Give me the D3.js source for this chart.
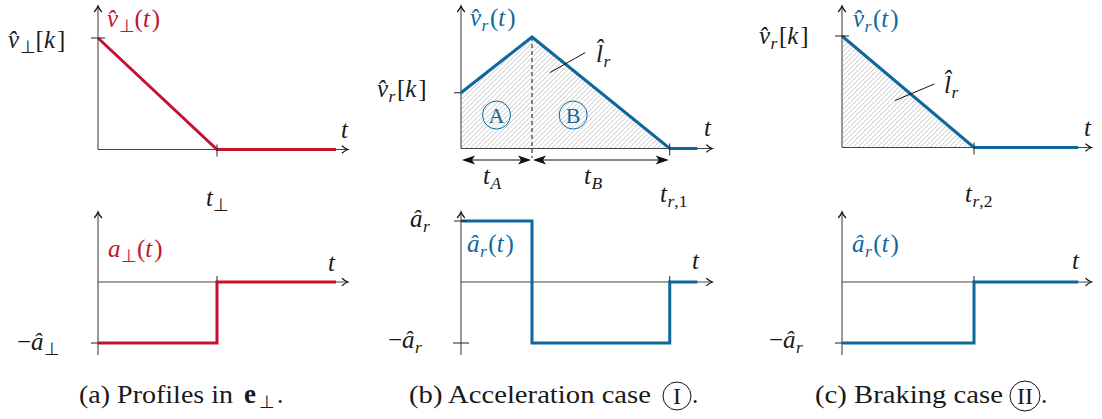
<!DOCTYPE html>
<html>
<head>
<meta charset="utf-8">
<script src="https://cdn.jsdelivr.net/npm/d3@7"></script>
</head>
<body style="margin:0;background:#fff">
<svg id="chart" width="1102" height="419" style="display:block"></svg>
<script>
// ---- profile data (time in units of the panel's first switching time) ----
// (a) perpendicular direction
const perpVelT = [0, 1, 2];
const perpVelV = [1, 0, 0];
const perpAccT = [0, 1, 1, 2];
const perpAccV = [-1, -1, 0, 0];
const perpAxisMax = 2.1;

// (b) acceleration case: ramp up for t_A, ramp down for t_B
const accVelT = [0, 1, 2.94, 3.33];
const accVelV = [0.5, 1, 0, 0];
const accAccT = [0, 1, 1, 2.94, 2.94, 3.33];
const accAccV = [1, 1, -1, -1, 0, 0];
const accAxisMax = 3.54;

// (c) braking case
const brkVelT = [0, 1, 1.79];
const brkVelV = [1, 0, 0];
const brkAccT = [0, 1, 1, 1.79];
const brkAccV = [-1, -1, 0, 0];
const brkAxisMax = 1.89;

const RED = "#c4122f";
const BLUE = "#0f689c";
const FONT = '"Liberation Serif", "Times New Roman", serif';
const INK = "#1a1a1a";

const svg = d3.select("#chart");
const ctx = document.createElement("canvas").getContext("2d");

// ---- helpers ----
function measure(str, size, italic, bold) {
  ctx.font = `${italic ? "italic " : ""}${bold ? "bold " : ""}${size}px "Liberation Serif", serif`;
  return ctx.measureText(str).width;
}

function plainText(x, y, str, opts = {}) {
  const size = opts.size || 25;
  const t = svg.append("text").attr("x", x).attr("y", y)
    .attr("font-size", size)
    .attr("font-family", FONT)
    .style("font-family", FONT)
    .style("fill", opts.color || INK)
    .text(str);
  if (opts.italic) t.attr("font-style", "italic").style("font-style", "italic");
  if (opts.len) t.attr("textLength", opts.len).attr("lengthAdjust", "spacingAndGlyphs");
  if (opts.anchor) t.attr("text-anchor", opts.anchor);
  if (opts.bold) t.attr("font-weight", "bold");
  return t;
}

// math label built from separate runs: [text, "i" italic / "sub" subscript]
function mathText(x, y, parts, opts = {}) {
  const size = opts.size || 25;
  let cx = x;
  let prevItalic = false;
  parts.forEach(([str, kind]) => {
    const italic = !!(kind && kind.includes("i"));
    const sub = !!(kind && kind.includes("sub"));
    const s = sub ? size * 0.7 : size;
    if (prevItalic && !italic && !sub) cx += 1.5;
    plainText(cx, y + (sub ? 5 : 0), str, { size: s, italic, color: opts.color });
    cx += measure(str, s, italic) + (italic && !sub ? 0.5 : 0);
    prevItalic = italic;
  });
}

function arrowHead(g, x, y, dir) {
  // light open chevron at the end of an axis
  let p;
  if (dir === "right") p = `M${x - 6},${y - 3.8} Q${x - 2.5},${y - 0.8} ${x},${y} Q${x - 2.5},${y + 0.8} ${x - 6},${y + 3.8}`;
  else p = `M${x - 3.8},${y + 6} Q${x - 0.8},${y + 2.5} ${x},${y} Q${x + 0.8},${y + 2.5} ${x + 3.8},${y + 6}`;
  g.append("path").attr("d", p).attr("fill", "none").attr("stroke", "#111").attr("stroke-width", 1.2);
}

function stealth(g, x, y, dir) {
  const s = dir; // +1 points right, -1 points left
  const p = `M${x},${y} L${x - s * 13},${y - 4.5} L${x - s * 10},${y} L${x - s * 13},${y + 4.5} Z`;
  g.append("path").attr("d", p).attr("fill", "#111");
}

function panel(cfg) {
  const g = svg.append("g");
  const x = d3.scaleLinear().domain([0, 1]).range([cfg.ox, cfg.ox + cfg.unit]);
  const yTop = d3.scaleLinear().domain([0, 1]).range([cfg.top0, cfg.top1]);
  const yBot = d3.scaleLinear().domain([-1, 1]).range([343, 221]);
  return { g, x, yTop, yBot };
}

function axesTop(p, tMax) {
  const { g, x, yTop } = p;
  g.append("line").attr("x1", x(0)).attr("x2", x(0)).attr("y1", yTop(0)).attr("y2", 6)
    .attr("stroke", "#777").attr("stroke-width", 1.5);
  arrowHead(g, x(0), 6, "up");
  g.append("line").attr("x1", x(0)).attr("x2", x(tMax)).attr("y1", yTop(0)).attr("y2", yTop(0))
    .attr("stroke", "#444").attr("stroke-width", 1.1);
  arrowHead(g, x(tMax), yTop(0), "right");
}

function axesBot(p, tMax) {
  const { g, x, yBot } = p;
  g.append("line").attr("x1", x(0)).attr("x2", x(0)).attr("y1", 355).attr("y2", 212)
    .attr("stroke", "#777").attr("stroke-width", 1.5);
  arrowHead(g, x(0), 212, "up");
  g.append("line").attr("x1", x(0)).attr("x2", x(tMax)).attr("y1", yBot(0)).attr("y2", yBot(0))
    .attr("stroke", "#444").attr("stroke-width", 1.1);
  arrowHead(g, x(tMax), yBot(0), "right");
}

function hTick(g, xc, y, left, right) {
  g.append("line").attr("x1", xc - left).attr("x2", xc + right).attr("y1", y).attr("y2", y)
    .attr("stroke", "#222").attr("stroke-width", 1);
}
function vTick(g, x, y1, y2) {
  g.append("line").attr("x1", x).attr("x2", x).attr("y1", y1).attr("y2", y2)
    .attr("stroke", "#222").attr("stroke-width", 1);
}

function profile(p, T, V, yScale, color) {
  const line = d3.line().x((d, i) => p.x(T[i])).y(d => yScale(d));
  p.g.append("path").attr("d", line(V)).attr("fill", "none")
    .attr("stroke", color).attr("stroke-width", 3).attr("stroke-linejoin", "miter");
}

// diagonal hatching of the area under a velocity profile (convex region)
function hatchArea(p, T, V) {
  const pts = [[p.x(T[0]), p.yTop(0)]]
    .concat(T.map((t, i) => [p.x(t), p.yTop(V[i])]))
    .concat([[p.x(T[T.length - 1]), p.yTop(0)]]);
  const sums = pts.map(q => q[0] + q[1]);
  const kMin = d3.min(sums), kMax = d3.max(sums);
  const step = 4.8;
  const hg = p.g.insert("g", ":first-child");
  for (let k = kMin + step / 2; k < kMax; k += step) {
    const hits = [];
    for (let i = 0; i < pts.length; i++) {
      const a = pts[i], b = pts[(i + 1) % pts.length];
      const s1 = a[0] + a[1] - k, s2 = b[0] + b[1] - k;
      if (s1 === s2 || s1 * s2 > 0) continue;
      const u = s1 / (s1 - s2);
      hits.push([a[0] + u * (b[0] - a[0]), a[1] + u * (b[1] - a[1])]);
    }
    if (hits.length < 2) continue;
    const lo = d3.least(hits, h => h[0]), hi = d3.greatest(hits, h => h[0]);
    hg.append("line").attr("x1", lo[0]).attr("y1", lo[1]).attr("x2", hi[0]).attr("y2", hi[1])
      .attr("stroke", "#b8b8b8").attr("stroke-width", 0.8);
  }
}

function circled(cx, cy, r, str, baseline) {
  svg.append("circle").attr("cx", cx).attr("cy", cy).attr("r", r)
    .attr("fill", "none").attr("stroke", "#111").attr("stroke-width", 1);
  plainText(cx, baseline, str, { anchor: "middle", size: 24 });
}

// ================= (a) perpendicular profiles =================
{
  const p = panel({ ox: 98, unit: 119, top0: 149.5, top1: 38 });
  axesTop(p, perpAxisMax);
  axesBot(p, perpAxisMax);
  profile(p, perpVelT, perpVelV, p.yTop, RED);
  profile(p, perpAccT, perpAccV, p.yBot, RED);
  hTick(p.g, p.x(0), p.yTop(1), 7, 7);
  vTick(p.g, p.x(1), p.yTop(0) - 5, p.yTop(0) + 7);
  hTick(p.g, p.x(0), p.yBot(-1), 7, 0);
  vTick(p.g, p.x(1), p.yBot(0) - 6, p.yBot(0));

  mathText(8, 48, [["v\u0302", "i"], ["\u22A5", "sub"], ["[", ""], ["k", "i"], ["]", ""]]);
  mathText(107, 27, [["v\u0302", "i"], ["\u22A5", "sub"], ["(", ""], ["t", "i"], [")", ""]], { color: RED });
  mathText(341, 138, [["t", "i"]]);
  mathText(206, 206, [["t", "i"], ["\u22A5", "sub"]]);
  mathText(108, 257, [["a", "i"], ["\u22A5", "sub"], ["(", ""], ["t", "i"], [")", ""]], { color: RED });
  mathText(328, 271, [["t", "i"]]);
  mathText(17, 350, [["\u2212", ""], ["a\u0302", "i"], ["\u22A5", "sub"]]);

  plainText(79, 403, "(a) Profiles in", { len: 154 });
  plainText(244, 403, "e", { bold: true, size: 27 });
  plainText(259, 408, "\u22A5", { size: 18 });
  plainText(277, 403, ".");
}

// ================= (b) acceleration case =================
{
  const p = panel({ ox: 461, unit: 71, top0: 148.5, top1: 37 });
  hatchArea(p, accVelT.slice(0, 3), accVelV.slice(0, 3));
  axesTop(p, accAxisMax);
  axesBot(p, accAxisMax);

  // switching instant between phase A and B
  p.g.append("line").attr("x1", p.x(1)).attr("x2", p.x(1))
    .attr("y1", p.yTop(1)).attr("y2", 158)
    .attr("stroke", "#111").attr("stroke-width", 1).attr("stroke-dasharray", "4,3");

  profile(p, accVelT, accVelV, p.yTop, BLUE);
  profile(p, accAccT, accAccV, p.yBot, BLUE);

  hTick(p.g, p.x(0), p.yTop(0.5), 7, 0);
  vTick(p.g, p.x(2.94), p.yTop(0) - 5, p.yTop(0) + 7);
  hTick(p.g, p.x(0), p.yBot(1), 7, 6);
  hTick(p.g, p.x(0), p.yBot(-1), 8, 8);
  vTick(p.g, p.x(2.94), p.yBot(0) - 6, p.yBot(0));

  // duration arrows t_A and t_B
  const ya = 160;
  [[0, 1], [1, 2.94]].forEach(([a, b]) => {
    p.g.append("line").attr("x1", p.x(a) + 3).attr("x2", p.x(b) - 3).attr("y1", ya).attr("y2", ya)
      .attr("stroke", "#111").attr("stroke-width", 1.1);
    stealth(p.g, p.x(a) + 1, ya, -1);
    stealth(p.g, p.x(b) - 1, ya, 1);
  });

  // circled region markers
  [["A", 0.5], ["B", 1.58]].forEach(([lab, t]) => {
    p.g.append("circle").attr("cx", p.x(t)).attr("cy", p.yTop(0.3)).attr("r", 14)
      .attr("fill", "none").attr("stroke", BLUE).attr("stroke-width", 1);
    plainText(p.x(t), p.yTop(0.3) + 7.5, lab, { anchor: "middle", size: 22, color: BLUE });
  });

  // leader to the distance label
  p.g.append("line").attr("x1", p.x(1.25)).attr("y1", p.yTop(0.68))
    .attr("x2", p.x(1.75)).attr("y2", p.yTop(0.86)).attr("stroke", "#111").attr("stroke-width", 1);

  mathText(470, 26, [["v\u0302", "i"], ["r", "i sub"], ["(", ""], ["t", "i"], [")", ""]], { color: BLUE });
  mathText(377, 97, [["v\u0302", "i"], ["r", "i sub"], ["[", ""], ["k", "i"], ["]", ""]]);
  mathText(596, 62, [["l\u0302", "i"], ["r", "i sub"]]);
  mathText(704, 136, [["t", "i"]]);
  mathText(483, 184, [["t", "i"], ["A", "i sub"]]);
  mathText(584, 184, [["t", "i"], ["B", "i sub"]]);
  mathText(660, 202, [["t", "i"], ["r", "i sub"], [",1", "sub"]]);
  mathText(410, 227, [["a\u0302", "i"], ["r", "i sub"]]);
  mathText(467, 252, [["a\u0302", "i"], ["r", "i sub"], ["(", ""], ["t", "i"], [")", ""]], { color: BLUE });
  mathText(692, 269, [["t", "i"]]);
  mathText(388, 348, [["\u2212", ""], ["a\u0302", "i"], ["r", "i sub"]]);

  plainText(409, 403, "(b) Acceleration case", { len: 242 });
  circled(677, 396, 14, "I", 404);
  plainText(692, 403, ".");
}

// ================= (c) braking case =================
{
  const p = panel({ ox: 842, unit: 132, top0: 147.5, top1: 36 });
  hatchArea(p, brkVelT.slice(0, 2), brkVelV.slice(0, 2));
  axesTop(p, brkAxisMax);
  axesBot(p, brkAxisMax);
  profile(p, brkVelT, brkVelV, p.yTop, BLUE);
  profile(p, brkAccT, brkAccV, p.yBot, BLUE);

  hTick(p.g, p.x(0), p.yTop(1), 7, 7);
  vTick(p.g, p.x(1), p.yTop(0) - 5, p.yTop(0) + 7);
  hTick(p.g, p.x(0), p.yBot(-1), 7, 0);
  vTick(p.g, p.x(1), p.yBot(0) - 6, p.yBot(0));

  p.g.append("line").attr("x1", p.x(0.40)).attr("y1", p.yTop(0.42))
    .attr("x2", p.x(0.70)).attr("y2", p.yTop(0.57)).attr("stroke", "#111").attr("stroke-width", 1);

  mathText(853, 27, [["v\u0302", "i"], ["r", "i sub"], ["(", ""], ["t", "i"], [")", ""]], { color: BLUE });
  mathText(759, 44, [["v\u0302", "i"], ["r", "i sub"], ["[", ""], ["k", "i"], ["]", ""]]);
  mathText(944, 93, [["l\u0302", "i"], ["r", "i sub"]]);
  mathText(1084, 136, [["t", "i"]]);
  mathText(965, 202, [["t", "i"], ["r", "i sub"], [",2", "sub"]]);
  mathText(852, 252, [["a\u0302", "i"], ["r", "i sub"], ["(", ""], ["t", "i"], [")", ""]], { color: BLUE });
  mathText(1072, 269, [["t", "i"]]);
  mathText(769, 348, [["\u2212", ""], ["a\u0302", "i"], ["r", "i sub"]]);

  plainText(815, 403, "(c) Braking case", { len: 188 });
  circled(1025, 396, 15, "II", 404);
  plainText(1041, 403, ".");
}
</script>
</body>
</html>
